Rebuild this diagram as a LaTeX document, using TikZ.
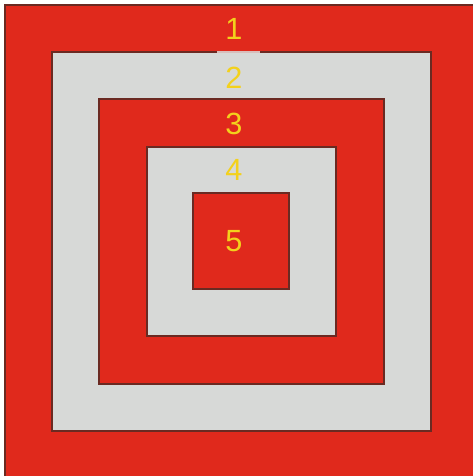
\documentclass[tikz,border=0pt]{standalone}
\usepackage{fontspec}
\setmainfont{Liberation Sans}
\definecolor{ringred}{HTML}{E0291C}
\definecolor{ringgray}{HTML}{D7D9D7}
\definecolor{ringedge}{HTML}{6A2A22}
\definecolor{digit}{HTML}{F3D11C}
\tikzset{
  ring/.style={draw=ringedge, line width=0.8pt},
  num/.style={text=digit, font=\fontsize{23}{23}\selectfont, inner sep=0pt}
}
\begin{document}
\begin{tikzpicture}[x=0.75pt, y=-0.75pt]
    % Canvas
    \useasboundingbox (0,0) rectangle (473,476);
    \fill[white] (0,0) rectangle (473,476);
    \clip (0,0) rectangle (473,476);

    % Nested squares, from the outside in
    \draw[ring, fill=ringred]  (5,5)     rectangle (478,478);
    \draw[ring, fill=ringgray] (52,52)   rectangle (431,431);
    \draw[ring, fill=ringred]  (99,99)   rectangle (384,384);
    \draw[ring, fill=ringgray] (147,147) rectangle (336,336);
    \draw[ring, fill=ringred]  (193,193) rectangle (289,289);

    % Light gap in the edge under the first label
    \draw[line width=0.8pt, ringgray!85!ringred] (217,52) -- (260,52);

    % Ring numbers
    \node[num] (n1) at (234,29)  {1};
    \node[num] (n2) at (234,78)  {2};
    \node[num] (n3) at (234,124) {3};
    \node[num] (n4) at (234,170) {4};
    \node[num] (n5) at (234,241) {5};
\end{tikzpicture}
\end{document}
